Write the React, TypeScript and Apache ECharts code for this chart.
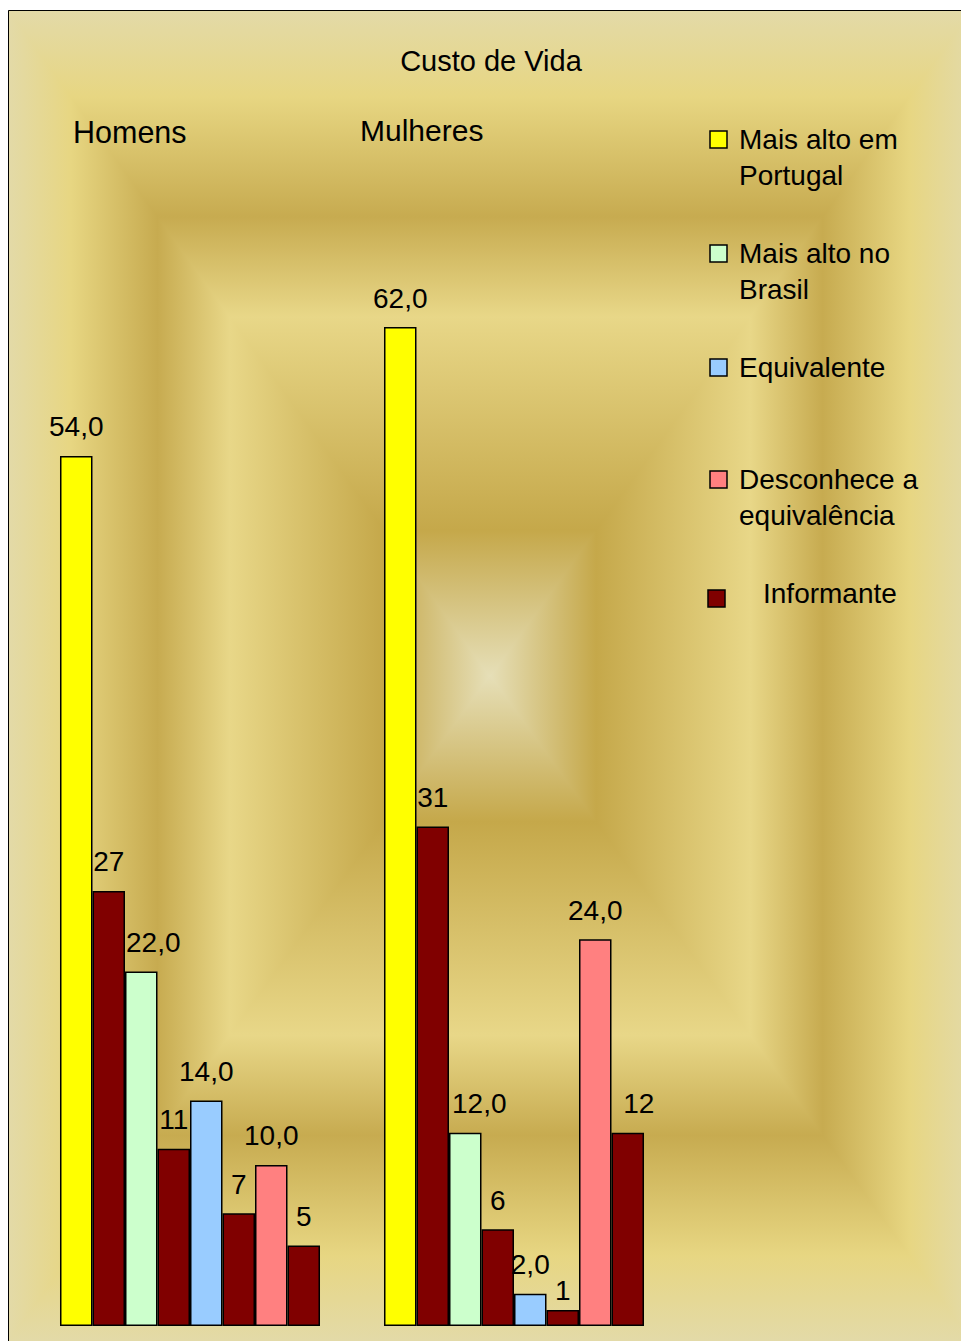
import React, { useEffect, useRef } from "react";
import * as echarts from "echarts";

const categories = ["Homens", "Mulheres"];
const maisAltoPortugal = [54, 62];
const informantePortugal = [27, 31];
const maisAltoBrasil = [22, 12];
const informanteBrasil = [11, 6];
const equivalente = [14, 2];
const informanteEquivalente = [7, 1];
const desconhece = [10, 24];
const informanteDesconhece = [5, 12];

const legendItems = [
  { text: "Mais alto em\nPortugal", color: "#FFFF00" },
  { text: "Mais alto no\nBrasil", color: "#CCFFCC" },
  { text: "Equivalente", color: "#99CCFF" },
  { text: "Desconhece a\nequivalência", color: "#FF8080" },
  { text: "Informante", color: "#800000" },
];

const FONT = "'Liberation Sans', Arial, sans-serif";

export default function App() {
  const ref = useRef<HTMLDivElement>(null);
  useEffect(() => {
    if (!ref.current) return;
    const chart = echarts.init(ref.current, undefined, { renderer: "svg" });

    const x0 = 8, y0 = 10, x1 = 972, y1 = 1342;
    const cx = (x0 + x1) / 2, cy = (y0 + y1) / 2;
    const stops = [
      { offset: 0, color: "#e3daa8" },
      { offset: 0.13, color: "#e7d682" },
      { offset: 0.31, color: "#c7ab50" },
      { offset: 0.46, color: "#e8d788" },
      { offset: 0.78, color: "#c5a84a" },
      { offset: 1, color: "#e6dfb8" },
    ];
    const grad = (a: number, b: number, c: number, d: number) => ({
      type: "linear", x: a, y: b, x2: c, y2: d, colorStops: stops,
    });
    const bg: any[] = [
      { type: "rect", z: -11, silent: true, shape: { x: x0, y: y0, width: x1 - x0, height: cy - y0 + 1 }, style: { fill: grad(0, 0, 0, 1) } },
      { type: "rect", z: -11, silent: true, shape: { x: x0, y: cy - 1, width: x1 - x0, height: y1 - cy + 1 }, style: { fill: grad(0, 1, 0, 0) } },
      { type: "polygon", z: -10, silent: true, shape: { points: [[x0, y0], [x0, y1], [cx, cy]] }, style: { fill: grad(0, 0, 1, 0) } },
      { type: "polygon", z: -10, silent: true, shape: { points: [[x1, y0], [x1, y1], [cx, cy]] }, style: { fill: grad(1, 0, 0, 0) } },
      { type: "rect", z: -9, silent: true, shape: { x: x0 + 0.5, y: y0 + 0.5, width: x1 - x0 + 10, height: y1 - y0 + 10 }, style: { fill: "none", stroke: "#000", lineWidth: 1 } },
    ];

    const legendY = [139, 253, 367, 479, 598];
    const legendGraphics: any[] = [];
    legendItems.forEach((it, i) => {
      const isInf = i === 4;
      const ix = isInf ? 708 : 710;
      legendGraphics.push({
        type: "rect", z: 5,
        shape: { x: ix, y: legendY[i] - 8, width: 17, height: 17 },
        style: { fill: it.color, stroke: "#000", lineWidth: 1.5 },
      });
      legendGraphics.push({
        type: "text", z: 5,
        x: isInf ? 763 : 739,
        y: (isInf ? 593 : legendY[i]) - 18,
        style: { text: it.text, font: `28px ${FONT}`, fill: "#000", lineHeight: 36, verticalAlign: "top", align: "left" },
      });
    });

    const texts: any[] = [
      { type: "text", z: 5, x: 491, y: 61, style: { text: "Custo de Vida", font: `29px ${FONT}`, fill: "#000", align: "center", verticalAlign: "middle" } },
      { type: "text", z: 5, x: 73, y: 132, style: { text: categories[0], font: `30.5px ${FONT}`, fill: "#000", align: "left", verticalAlign: "middle" } },
      { type: "text", z: 5, x: 360, y: 130, style: { text: categories[1], font: `30px ${FONT}`, fill: "#000", align: "left", verticalAlign: "middle" } },
    ];

    // label shifts (x, y) per category, as placed in the original
    const labelShift: Record<string, number[][]> = {
      brasil: [[12, 0], [14, 0]],
      equivalenteInf: [[0, 0], [0, 10]],
      desconheceInf: [[0, 0], [11, 0]],
    };

    const mk = (name: string, data: number[], color: string, decimal: boolean, shift?: number[][]) => ({
      type: "bar",
      name,
      data: data.map((v, i) => ({
        value: v,
        label: shift ? { offset: shift[i] } : undefined,
      })),
      barGap: "0%",
      barCategoryGap: "19.75%",
      itemStyle: { color, borderColor: "#000", borderWidth: 1.5 },
      label: {
        show: true,
        position: "top",
        distance: 15,
        color: "#000",
        fontFamily: FONT,
        fontSize: 28,
        formatter: (p: any) => (decimal ? Number(p.value).toFixed(1).replace(".", ",") : String(p.value)),
      },
      z: 2,
    });

    chart.setOption({
      animation: false,
      grid: { left: 28, right: 285, top: 37, bottom: 15, containLabel: false },
      xAxis: {
        type: "category",
        data: categories,
        axisLine: { show: false },
        axisTick: { show: false },
        axisLabel: { show: false },
      },
      yAxis: {
        type: "value",
        min: 0,
        max: 80,
        show: false,
        splitLine: { show: false },
      },
      series: [
        mk("Mais alto em Portugal", maisAltoPortugal, "#FFFF00", true),
        mk("Informante", informantePortugal, "#800000", false),
        mk("Mais alto no Brasil", maisAltoBrasil, "#CCFFCC", true, labelShift.brasil),
        mk("Informante", informanteBrasil, "#800000", false),
        mk("Equivalente", equivalente, "#99CCFF", true),
        mk("Informante", informanteEquivalente, "#800000", false, labelShift.equivalenteInf),
        mk("Desconhece a equivalência", desconhece, "#FF8080", true),
        mk("Informante", informanteDesconhece, "#800000", false, labelShift.desconheceInf),
      ],
      graphic: { elements: [...bg, ...texts, ...legendGraphics] },
    });
    return () => chart.dispose();
  }, []);
  return (
    <div
      ref={ref}
      style={{ position: "absolute", left: 0, top: 0, width: 961, height: 1341, background: "#fff" }}
    />
  );
}
